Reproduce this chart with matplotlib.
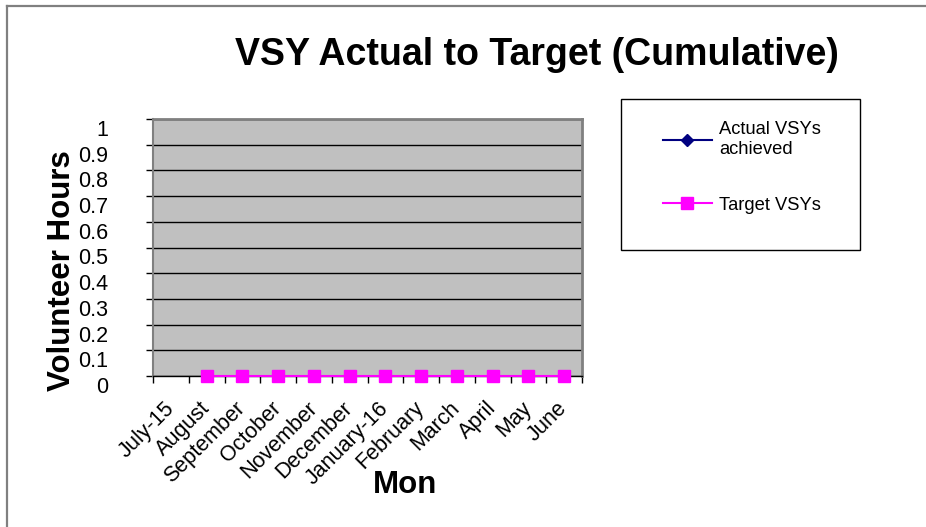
import numpy as np
import matplotlib.pyplot as plt
import matplotlib.transforms as mtransforms
from matplotlib.patches import Rectangle
from matplotlib.lines import Line2D

plt.rcParams['font.family'] = ['Liberation Sans', 'DejaVu Sans']

months = ['July-15', 'August', 'September', 'October', 'November', 'December',
          'January-16', 'February', 'March', 'April', 'May', 'June']
actual_vsys = [None] * 12
target_vsys = [None, 0, 0, 0, 0, 0, 0, 0, 0, 0, 0, 0]
y_ticks = [0, 0.1, 0.2, 0.3, 0.4, 0.5, 0.6, 0.7, 0.8, 0.9, 1]
y_labels = ['0', '0.1', '0.2', '0.3', '0.4', '0.5', '0.6', '0.7', '0.8', '0.9', '1']

W, H = 926, 527
fig = plt.figure(figsize=(W / 100, H / 100), dpi=100)

# outer chart border: only left and top edges are visible in the reference
fig.lines.append(Line2D([6.5 / W, 6.5 / W], [0, 1 - 5.5 / H], transform=fig.transFigure,
                        color='#808080', linewidth=1.6))
fig.lines.append(Line2D([6.5 / W, 1], [1 - 5.5 / H, 1 - 5.5 / H], transform=fig.transFigure,
                        color='#808080', linewidth=1.6))

ax = fig.add_axes([153 / W, 1 - 376 / H, (582 - 153) / W, (376 - 119) / H])
ax.set_facecolor('#C0C0C0')

x = np.arange(len(months))
actual = np.array([np.nan if v is None else v for v in actual_vsys], dtype=float)
target = np.array([np.nan if v is None else v for v in target_vsys], dtype=float)

ax.plot(x, actual, color='#000080', marker='D', markersize=6, linewidth=1.5,
        label='Actual VSYs\nachieved')
ax.plot(x, target, color='#FF00FF', marker='s', markersize=8.5, linewidth=1.5,
        label='Target VSYs', clip_on=False, zorder=5)

ax.set_xlim(-0.5, len(months) - 0.5)
ax.set_ylim(0, 1)

ax.set_yticks(y_ticks)
ax.set_yticklabels(y_labels, fontsize=15.5)
ax.yaxis.grid(True, color='black', linewidth=1)
ax.set_axisbelow(True)
ax.tick_params(axis='y', direction='out', length=5, width=1, pad=27)
offset = mtransforms.ScaledTranslation(0, -9 / 100, fig.dpi_scale_trans)
for lab in ax.get_yticklabels():
    lab.set_transform(lab.get_transform() + offset)

ax.set_xticks(np.arange(len(months) + 1) - 0.5)
ax.set_xticklabels([])
ax.set_xticks(x, minor=True)
ax.set_xticklabels(months, minor=True, rotation=45, ha='right', va='center',
                   rotation_mode='anchor', fontsize=15.5)
ax.tick_params(axis='x', which='major', direction='out', length=5, width=1)
ax.tick_params(axis='x', which='minor', length=0, pad=21)

for side in ['top', 'right']:
    ax.spines[side].set_color('#808080')
    ax.spines[side].set_linewidth(2)
ax.spines['left'].set_color('#808080')
ax.spines['left'].set_linewidth(1.5)
ax.spines['bottom'].set_color('black')
ax.spines['bottom'].set_linewidth(1)

fig.text(537 / W, 1 - 55 / H, 'VSY Actual to Target (Cumulative)', ha='center',
         va='center', fontsize=27, fontweight='bold')
fig.text(62 / W, 1 - 271 / H, 'Volunteer Hours', rotation=90, ha='center',
         va='center', fontsize=22.5, fontweight='bold')
fig.text(405 / W, 1 - 485 / H, 'Mon', ha='center', va='center',
         fontsize=22.5, fontweight='bold')

# legend box
fig.patches.append(Rectangle((621 / W, 1 - 250 / H), (860 - 621) / W, (250 - 99) / H,
                             transform=fig.transFigure, fill=False,
                             edgecolor='black', linewidth=1))
ax.legend(loc='upper left', bbox_to_anchor=(646 / W, 1 - 105 / H),
          bbox_transform=fig.transFigure, frameon=False, fontsize=13.2,
          handlelength=2.7, handletextpad=0.4, labelspacing=2.1)

fig.savefig('out.png', dpi=100)
